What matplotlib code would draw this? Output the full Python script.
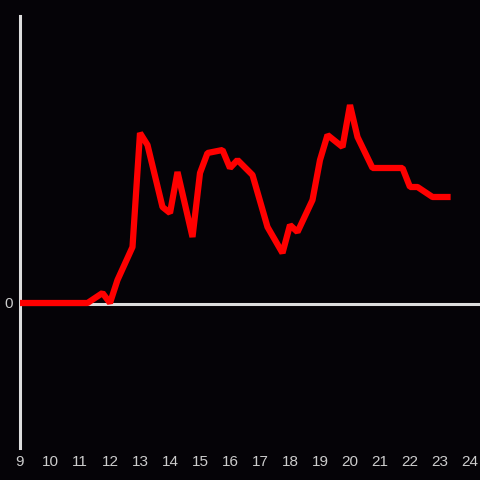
import matplotlib
matplotlib.use("Agg")
import matplotlib.pyplot as plt

hours = [9.0, 11.25, 11.75, 12.0, 12.25, 12.75, 13.0, 13.25, 13.75, 14.0, 14.25, 14.75,
         15.0, 15.25, 15.75, 16.0, 16.25, 16.75, 17.25, 17.75, 18.0, 18.25, 18.75,
         19.0, 19.25, 19.75, 20.0, 20.25, 20.75, 21.75, 22.0, 22.25, 22.75, 23.25]
values = [0.0, 0.0, 1.0, 0.0, 2.3, 5.6, 17.0, 15.8, 9.6, 9.0, 13.1, 6.6,
          13.0, 15.0, 15.3, 13.5, 14.3, 12.8, 7.6, 5.0, 7.8, 7.1, 10.3,
          14.3, 16.8, 15.6, 19.8, 16.6, 13.5, 13.5, 11.6, 11.6, 10.6, 10.6]
xticks = list(range(9, 25))

bg = "#050307"
fig = plt.figure(figsize=(4.8, 4.8), dpi=100, facecolor=bg)
ax = fig.add_axes([20/480, 32/480, 460/480, 432/480])
ax.set_facecolor(bg)

ax.axhline(-0.1, color="#dddddd", lw=2.2, zorder=1)
ax.plot(hours, values, color="#ff0000", lw=4.5, solid_joinstyle="bevel",
        solid_capstyle="projecting", zorder=3)

ax.set_xlim(9, 24 + 10/30)
ax.set_ylim(-14.5, 28.7)
ax.set_xticks(xticks)
ax.set_xticklabels([str(t) for t in xticks])
ax.set_yticks([0])
ax.set_yticklabels(["0"])
ax.tick_params(length=0, colors="#cccccc", labelsize=11, pad=5)
for lab in ax.get_xticklabels() + ax.get_yticklabels():
    lab.set_family(["Liberation Sans", "DejaVu Sans"])
for s in ["top", "right", "bottom"]:
    ax.spines[s].set_visible(False)
ax.spines["left"].set_color("#dddddd")
ax.spines["left"].set_linewidth(2.2)

fig.savefig("out.png", dpi=100, facecolor=bg)
